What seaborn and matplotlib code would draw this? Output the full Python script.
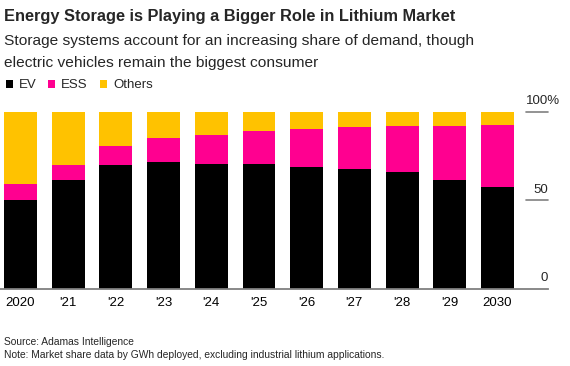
import matplotlib
matplotlib.use("Agg")
import matplotlib.pyplot as plt
import seaborn as sns
import pandas as pd

years = ["2020", "'21", "'22", "'23", "'24", "'25", "'26", "'27", "'28", "'29", "2030"]
ev = [50.1, 61.2, 69.9, 71.6, 70.6, 70.6, 68.7, 67.4, 65.7, 61.4, 57.4]
ess = [9.0, 8.9, 10.9, 13.7, 16.4, 18.7, 21.5, 23.9, 26.2, 30.7, 34.9]
others = [round(100 - a - b, 1) for a, b in zip(ev, ess)]

series_names = ["EV", "ESS", "Others"]
series_colors = ["#000000", "#FF0090", "#FFC200"]

sns.set_theme(style="white")
plt.rcParams["font.family"] = ["Liberation Sans", "DejaVu Sans"]

df = pd.DataFrame({"year": years, "EV": ev, "ESS": ess, "Others": others})
df["cum_ev"] = df["EV"]
df["cum_ess"] = df["EV"] + df["ESS"]
df["cum_all"] = df["EV"] + df["ESS"] + df["Others"]

W, H = 570, 366
fig = plt.figure(figsize=(W / 100, H / 100), dpi=100)
ax_left, ax_right, ax_top, ax_bot = 0, 548, 111.7, 288.7
ax = fig.add_axes([ax_left / W, 1 - ax_bot / H, (ax_right - ax_left) / W, (ax_bot - ax_top) / H])

for col, color in zip(["cum_all", "cum_ess", "cum_ev"], series_colors[::-1]):
    sns.barplot(data=df, x="year", y=col, color=color, saturation=1, width=0.69,
                errorbar=None, linewidth=0, ax=ax, order=years)

ax.set_xlim(-0.43, 11.06)
ax.set_ylim(0, 100)
ax.set_xlabel("")
ax.set_ylabel("")
ax.set_yticks([])
ax.set_xticks(range(len(years)))
ax.set_xticklabels(years, fontsize=9.5, color="#000000")
ax.tick_params(axis="x", length=0, pad=6)
for s in ["left", "right", "top"]:
    ax.spines[s].set_visible(False)
ax.spines["bottom"].set_color("#808080")
ax.spines["bottom"].set_linewidth(1.3)

ytr = ax.get_yaxis_transform()
for v in [50, 100]:
    ax.plot([526 / 548, 1.0], [v, v], transform=ytr, color="#808080", lw=1.2, clip_on=False)
for v, lab in [(0, "0"), (50, "50")]:
    ax.text(1.0, v + 4.2, lab, transform=ytr, ha="right", va="baseline", fontsize=9.5, clip_on=False)
ax.text(526 / 548, 104.3, "100%", transform=ytr, ha="left", va="baseline", fontsize=9.5, clip_on=False)

def ftext(x, y, s, **kw):
    fig.text(x / W, 1 - y / H, s, va="baseline", ha="left", **kw)

ftext(4, 20.5, "Energy Storage is Playing a Bigger Role in Lithium Market", fontsize=11.8, fontweight="bold")
ftext(4, 45.5, "Storage systems account for an increasing share of demand, though", fontsize=11.15)
ftext(4, 66.5, "electric vehicles remain the biggest consumer", fontsize=11.15)

# legend
lx = [5.7, 47.7, 100]
for x0, name, color in zip(lx, series_names, series_colors):
    fig.patches.append(plt.Rectangle((x0 / W, 1 - 87.7 / H), 7 / W, 7.5 / H, transform=fig.transFigure,
                                     facecolor=color, edgecolor="none"))
    ftext(x0 + 13.3, 88.2, name, fontsize=9.5)

ftext(4, 345, "Source: Adamas Intelligence", fontsize=7.4)
ftext(4, 357.5, "Note: Market share data by GWh deployed, excluding industrial lithium applications.", fontsize=7.35)

fig.savefig("out.png", dpi=100)
